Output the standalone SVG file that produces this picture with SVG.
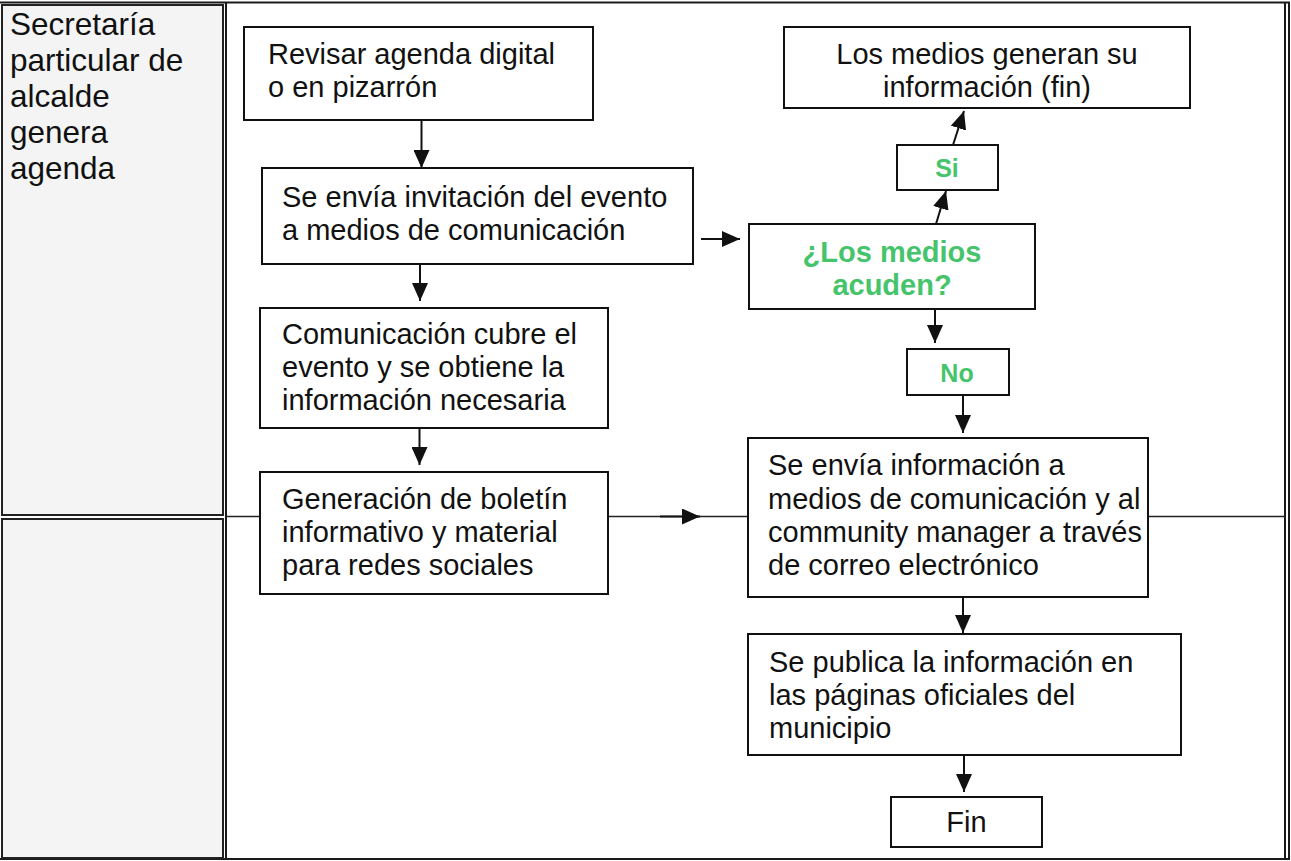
<svg xmlns="http://www.w3.org/2000/svg" width="1291" height="861" viewBox="0 0 1291 861">
<defs>
<style>
.frame{fill:none;stroke:#1a1a1a;stroke-width:2}
.cell{fill:#f4f4f4;stroke:#222;stroke-width:2}
.box{fill:#ffffff;stroke:#111;stroke-width:2}
.t{font-family:"Liberation Sans",Arial,sans-serif;font-size:29px;fill:#111}
.lt{font-family:"Liberation Sans",Arial,sans-serif;font-size:31.5px;fill:#111}
.g{font-family:"Liberation Sans",Arial,sans-serif;font-weight:bold;fill:#45c46c;text-anchor:middle}
.c{fill:none;stroke:#111;stroke-width:2}
.lane{fill:none;stroke:#222;stroke-width:1.5}
</style>
<marker id="ah" viewBox="0 0 18 16" refX="18" refY="8" markerWidth="18" markerHeight="16" markerUnits="userSpaceOnUse" orient="auto">
<path d="M0,0 L18,8 L0,16 Z" fill="#111"/>
</marker>
</defs>
<rect width="1291" height="861" fill="#ffffff"/>
<g id="frame">
<line class="frame" x1="0" y1="2.5" x2="1290" y2="2.5"/>
<line class="frame" x1="0" y1="859" x2="1290" y2="859"/>
<line class="frame" x1="226" y1="2.5" x2="226" y2="859"/>
<line class="frame" x1="1285" y1="2.5" x2="1285" y2="859"/>
<line class="frame" x1="1289" y1="2.5" x2="1289" y2="859"/>
</g>
<g id="lane-top">
<rect class="cell" x="2" y="5" width="221" height="510"/>
<text class="lt" x="10" y="35">Secretaría</text>
<text class="lt" x="10" y="71">particular de</text>
<text class="lt" x="10" y="107">alcalde</text>
<text class="lt" x="10" y="143">genera</text>
<text class="lt" x="10" y="179">agenda</text>
</g>
<g id="lane-bottom">
<rect class="cell" x="2" y="519" width="221" height="339"/>
</g>
<g id="connectors">
<line class="lane" x1="226" y1="516.5" x2="1285" y2="516.5"/>
<line class="c" x1="421.5" y1="120" x2="421.5" y2="168" marker-end="url(#ah)"/>
<line class="c" x1="420" y1="264" x2="420" y2="301" marker-end="url(#ah)"/>
<line class="c" x1="419.5" y1="428" x2="419.5" y2="465" marker-end="url(#ah)"/>
<line class="c" x1="701" y1="239" x2="740" y2="239" marker-end="url(#ah)"/>
<line class="c" x1="936" y1="224" x2="946" y2="191" marker-end="url(#ah)"/>
<line class="c" x1="953" y1="145" x2="964" y2="111" marker-end="url(#ah)"/>
<line class="c" x1="935" y1="309" x2="935" y2="343" marker-end="url(#ah)"/>
<line class="c" x1="963" y1="395" x2="963" y2="433" marker-end="url(#ah)"/>
<line class="c" x1="660" y1="516.5" x2="700" y2="516.5" marker-end="url(#ah)"/>
<line class="c" x1="963" y1="597" x2="963" y2="633" marker-end="url(#ah)"/>
<line class="c" x1="964" y1="755" x2="964" y2="792" marker-end="url(#ah)"/>
</g>
<g id="n-revisar">
<rect class="box" x="244" y="27" width="349" height="93"/>
<text class="t" x="268" y="64">Revisar agenda digital</text>
<text class="t" x="268" y="97">o en pizarrón</text>
</g>
<g id="n-invitacion">
<rect class="box" x="262" y="168" width="431" height="96"/>
<text class="t" x="282" y="207">Se envía invitación del evento</text>
<text class="t" x="282" y="240">a medios de comunicación</text>
</g>
<g id="n-cubre">
<rect class="box" x="260" y="308" width="348" height="120"/>
<text class="t" x="282" y="344">Comunicación cubre el</text>
<text class="t" x="282" y="377">evento y se obtiene la</text>
<text class="t" x="282" y="410">información necesaria</text>
</g>
<g id="n-boletin">
<rect class="box" x="260" y="472" width="348" height="122"/>
<text class="t" x="282" y="509">Generación de boletín</text>
<text class="t" x="282" y="542">informativo y material</text>
<text class="t" x="282" y="575">para redes sociales</text>
</g>
<g id="n-medios-fin">
<rect class="box" x="784" y="27" width="406" height="81"/>
<text class="t" x="987" y="64" text-anchor="middle">Los medios generan su</text>
<text class="t" x="987" y="97" text-anchor="middle">información (fin)</text>
</g>
<g id="n-si">
<rect class="box" x="897" y="145" width="101" height="45"/>
<text class="g" x="947" y="177" font-size="25">Si</text>
</g>
<g id="n-decision">
<rect class="box" x="749" y="224" width="286" height="85"/>
<text class="g" x="892" y="262" font-size="29">¿Los medios</text>
<text class="g" x="892" y="295" font-size="29">acuden?</text>
</g>
<g id="n-no">
<rect class="box" x="907" y="349" width="102" height="46"/>
<text class="g" x="957" y="382" font-size="25">No</text>
</g>
<g id="n-envia">
<rect class="box" x="748" y="438" width="400" height="159"/>
<text class="t" x="768" y="475">Se envía información a</text>
<text class="t" x="768" y="509">medios de comunicación y al</text>
<text class="t" x="768" y="542">community manager a través</text>
<text class="t" x="768" y="575">de correo electrónico</text>
</g>
<g id="n-publica">
<rect class="box" x="748" y="634" width="433" height="121"/>
<text class="t" x="769" y="672">Se publica la información en</text>
<text class="t" x="769" y="705">las páginas oficiales del</text>
<text class="t" x="769" y="738">municipio</text>
</g>
<g id="n-fin">
<rect class="box" x="891" y="797" width="151" height="50"/>
<text class="t" x="966.5" y="832" text-anchor="middle">Fin</text>
</g>
</svg>
